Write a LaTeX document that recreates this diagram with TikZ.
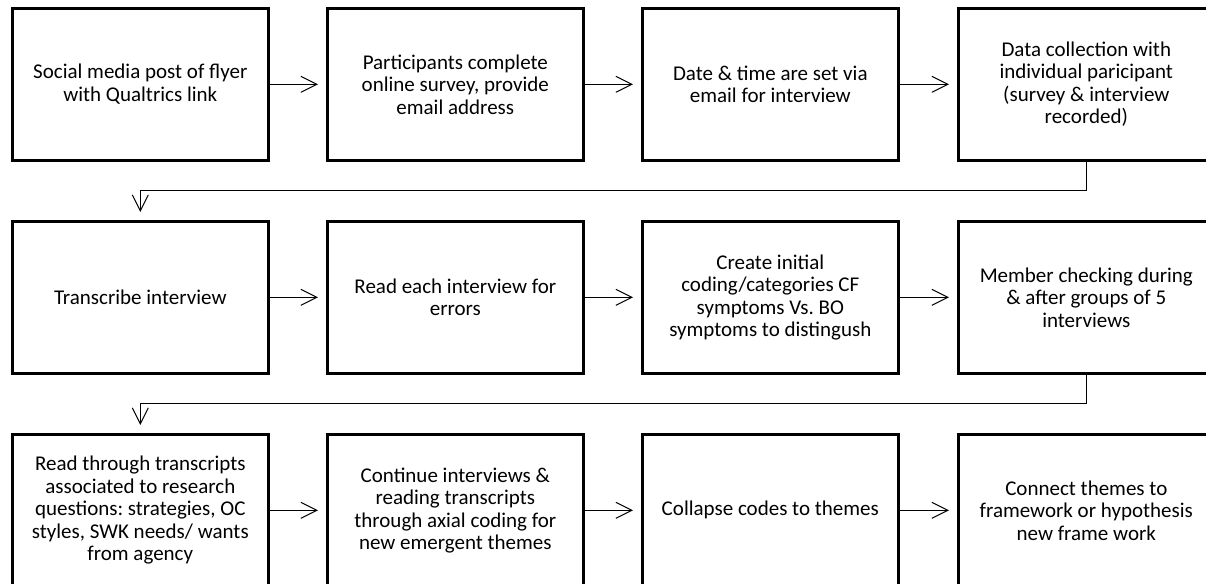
\documentclass[tikz,border=0pt]{standalone}
\usepackage{fontspec}
\setmainfont{Carlito}
\usetikzlibrary{arrows.meta,positioning}
\frenchspacing
\begin{document}
\begin{tikzpicture}[x=1pt,y=-1pt,
  stepbox/.style={draw=black,line width=2.6pt,rectangle,inner sep=0pt,
    minimum width=256pt,minimum height=152pt,anchor=north west,
    align=center,font=\fontsize{21}{22.5}\selectfont},
  flow/.style={line width=1pt,-{Straight Barb[length=16pt,width=16pt]},shorten >=8pt}
]
\useasboundingbox (0,0) rectangle (1206,583);
\clip (0,0) rectangle (1206,583);
% row 1
\node[stepbox] (b1) at (11,7)  {Social media post of flyer\\with Qualtrics link};
\node[stepbox] (b2) at (326,7) {Participants complete\\online survey, provide\\email address};
\node[stepbox] (b3) at (641,7) {Date \& time are set via\\email for interview};
\node[stepbox] (b4) at (957,7) {Data collection with\\individual paricipant\\(survey \& interview\\recorded)};
% row 2
\node[stepbox] (b5) at (11,220)  {Transcribe interview};
\node[stepbox] (b6) at (326,220) {Read each interview for\\errors};
\node[stepbox] (b7) at (641,220) {Create initial\\coding/categories CF\\symptoms Vs. BO\\symptoms to distingush};
\node[stepbox] (b8) at (957,220) {Member checking during\\\& after groups of 5\\interviews};
% row 3
\node[stepbox] (b9)  at (11,433)  {Read through transcripts\\associated to research\\questions: strategies, OC\\styles, SWK needs/ wants\\from agency};
\node[stepbox] (b10) at (326,433) {Continue interviews \&\\reading transcripts\\through axial coding for\\new emergent themes};
\node[stepbox] (b11) at (641,433) {Collapse codes to themes};
\node[stepbox] (b12) at (957,433) {Connect themes to\\framework or hypothesis\\new frame work};
% connectors within rows
\foreach \a/\b in {b1/b2,b2/b3,b3/b4,b5/b6,b6/b7,b7/b8,b9/b10,b10/b11,b11/b12}
  \draw[flow] (\a.east) -- (\b.west);
% connectors between rows
\coordinate (r1) at (0,190);
\coordinate (r2) at (0,403);
\draw[flow] (b4.south) |- (r1 -| b5.north) -- (b5.north);
\draw[flow] (b8.south) |- (r2 -| b9.north) -- (b9.north);
\end{tikzpicture}
\end{document}
